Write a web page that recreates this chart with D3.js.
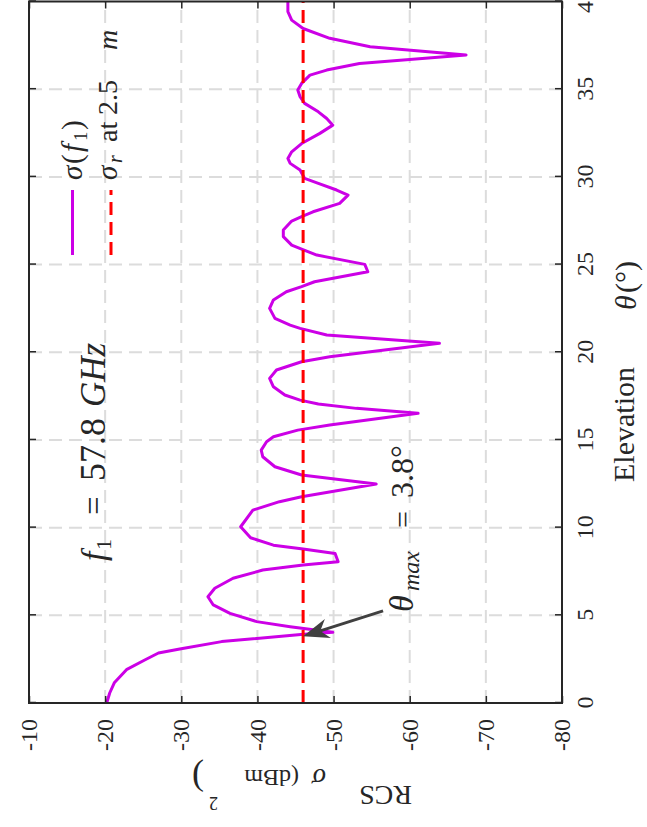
<!DOCTYPE html>
<html><head><meta charset="utf-8">
<script src="https://cdn.jsdelivr.net/npm/d3@7"></script>
<style>
html,body{margin:0;padding:0;background:#fff;}
svg{display:block;}
text{font-family:"Liberation Serif","Times New Roman",serif;fill:#262626;}
</style></head>
<body>
<script>
// ---- data ----
const elevation = [0.0,0.57,1.15,1.9,2.45,2.85,3.08,3.5,3.9,4.03,4.35,4.64,5.11,5.59,6.06,6.54,7.11,7.58,7.87,8.06,8.53,8.78,9.0,9.42,10.05,11.0,11.48,11.76,12.49,13.0,13.47,14.04,14.42,14.9,15.18,15.56,15.85,16.52,16.8,17.05,17.27,17.56,18.03,18.51,18.99,19.46,19.74,20.51,20.98,21.36,21.55,21.93,22.5,22.98,23.45,23.74,24.02,24.59,25.01,25.54,25.88,26.11,26.59,26.97,27.48,27.73,28.01,28.49,28.96,29.25,29.63,29.91,30.39,30.77,31.05,31.43,31.9,32.48,32.95,33.33,33.71,34.19,34.57,34.95,35.33,35.8,36.09,36.47,36.95,37.42,37.9,38.46,38.94,39.42,40.0];
const rcsF1 = [-20.2,-20.6,-21.2,-22.8,-25.2,-27.0,-29.8,-35.3,-45.7,-49.9,-44.3,-39.9,-36.4,-34.2,-33.5,-34.4,-36.8,-40.7,-46.0,-50.6,-50.2,-46.0,-42.1,-39.1,-37.8,-39.4,-42.9,-45.8,-55.6,-45.8,-42.3,-40.7,-40.5,-41.2,-42.1,-45.3,-49.5,-61.1,-53.0,-48.0,-45.6,-43.6,-42.1,-41.6,-42.5,-45.8,-49.5,-63.9,-49.1,-45.6,-44.3,-42.3,-41.6,-42.1,-43.8,-45.8,-47.5,-54.5,-54.1,-47.8,-45.8,-44.5,-43.4,-43.4,-44.5,-45.8,-47.3,-50.8,-51.9,-50.4,-48.0,-46.2,-45.6,-44.3,-44.0,-44.5,-45.8,-48.2,-49.9,-49.1,-48.0,-46.2,-45.6,-45.3,-45.8,-46.9,-49.1,-53.4,-67.4,-54.8,-49.5,-46.0,-44.5,-44.0,-44.0];
const sigmaR = -46.0;           // sigma_r at 2.5 m
const xTicks = [0,5,10,15,20,25,30,35,40];
const yTicks = [-80,-70,-60,-50,-40,-30,-20,-10];
const thetaMax = 3.8;
const arrowTail = {theta:5.25, rcs:-56.5};

// ---- layout (unrotated frame 827 x 647, then rotated -90deg) ----
const L = 124, R = 825.5, T = 29, B = 562;
const x = d3.scaleLinear().domain([0,40]).range([L,R]);
const y = d3.scaleLinear().domain([-80,-10]).range([B,T]);

const svg = d3.select("body").append("svg").attr("width",647).attr("height",827);
const g = svg.append("g").attr("transform","translate(0,827) rotate(-90)");

// grid
const grid = g.append("g");
grid.selectAll(".gx").data(xTicks.slice(1,-1)).join("line")
  .attr("x1",d=>x(d)).attr("x2",d=>x(d)).attr("y1",T).attr("y2",B)
  .attr("stroke","#dcdcdc").attr("stroke-width",2).attr("stroke-dasharray","13,7");
grid.selectAll(".gy").data(yTicks.slice(1,-1)).join("line")
  .attr("y1",d=>y(d)).attr("y2",d=>y(d)).attr("x1",L).attr("x2",R)
  .attr("stroke","#dcdcdc").attr("stroke-width",2).attr("stroke-dasharray","13,7");

// data lines
const pts = elevation.map((e,i)=>[e,rcsF1[i]]);
g.append("path").datum(pts)
  .attr("d", d3.line().x(d=>x(d[0])).y(d=>y(d[1])))
  .attr("fill","none").attr("stroke","#cc00e6").attr("stroke-width",3).attr("stroke-linejoin","round");
g.append("line").attr("x1",x(0)).attr("x2",x(40)).attr("y1",y(sigmaR)).attr("y2",y(sigmaR))
  .attr("stroke","#ff0000").attr("stroke-width",3).attr("stroke-dasharray","13,7");

// axes
function styleAxis(sel){
  sel.select(".domain").remove();
  sel.selectAll(".tick line").attr("stroke","#262626").attr("stroke-width",1.5);
  sel.selectAll(".tick text").attr("font-size",24).attr("fill","#262626");
}
const fmt = d=>String(d);
g.append("g").attr("transform",`translate(0,${B})`)
  .call(d3.axisBottom(x).tickValues(xTicks).tickFormat(fmt).tickSizeInner(-7).tickSizeOuter(0).tickPadding(14))
  .call(styleAxis);
g.append("g").attr("transform",`translate(0,${T})`)
  .call(d3.axisTop(x).tickValues(xTicks).tickFormat("").tickSizeInner(-7).tickSizeOuter(0))
  .call(styleAxis);
g.append("g").attr("transform",`translate(${L},0)`)
  .call(d3.axisLeft(y).tickValues(yTicks).tickFormat(fmt).tickSizeInner(-7).tickSizeOuter(0).tickPadding(16))
  .call(styleAxis);
g.append("g").attr("transform",`translate(${R},0)`)
  .call(d3.axisRight(y).tickValues(yTicks).tickFormat("").tickSizeInner(-7).tickSizeOuter(0))
  .call(styleAxis);
g.append("rect").attr("x",L).attr("y",T).attr("width",R-L).attr("height",B-T)
  .attr("fill","none").attr("stroke","#262626").attr("stroke-width",2);

// helper for text pieces in the unrotated frame
function piece(parent, str, u, v, size, italic){
  return parent.append("text").attr("x",u).attr("y",v).attr("font-size",size)
    .attr("font-style", italic ? "italic" : "normal").text(str);
}

// x label
piece(g,"Elevation",345,634,30,false);
piece(g,"θ",517,636,30,true);
piece(g,"(°)",534,636,30,false);

// y label (rotated in unrotated frame; local x = -v, local y = u)
const yl = g.append("g").attr("transform","rotate(-90)");
piece(yl,"RCS",-412,41,28,false);
piece(yl,"σ",-326,58,28,true);
piece(yl,"(dBm",-299,57,24,false);
piece(yl,"2",-218,30,18,false);
piece(yl,")",-204,60,36,false);

// legend
const lg = g.append("g");
lg.append("line").attr("x1",572).attr("x2",637).attr("y1",72.5).attr("y2",72.5)
  .attr("stroke","#cc00e6").attr("stroke-width",3);
lg.append("line").attr("x1",572).attr("x2",637).attr("y1",111).attr("y2",111)
  .attr("stroke","#ff0000").attr("stroke-width",3).attr("stroke-dasharray","13,7");
piece(lg,"σ",647,82,29,true);
piece(lg,"(",663,82,29,false);
piece(lg,"f",675,82,29,true);
piece(lg,"1",686,87,19,false);
piece(lg,")",697,82,29,false);
piece(lg,"σ",647,117,29,true);
piece(lg,"r",664,122,20,true);
piece(lg,"at",685,117,28,false);
piece(lg,"2.5",712,117,28,false);
piece(lg,"m",777,117,28,true);

// annotation f1 = 57.8 GHz
const a1 = g.append("g");
piece(a1,"f",266,105,34,true);
piece(a1,"1",277,111,22,false);
piece(a1,"=",312,105,33,false);
piece(a1,"57.8",346,105,36,false);
piece(a1,"GHz",420,105,35,true);

// annotation theta max
const a2 = g.append("g");
piece(a2,"θ",215,413,34,true);
piece(a2,"max",236,419,24,true);
piece(a2,"=",299,413,30,false);
piece(a2,"3.8°",329,413,32,false);

// arrow
const tx = x(thetaMax), ty = y(sigmaR), sx = x(arrowTail.theta), sy = y(arrowTail.rcs);
const ang = Math.atan2(ty-sy, tx-sx);
const hl = 26, hw = 10, back = 18;
const ux = Math.cos(ang), uy = Math.sin(ang);
const bx = tx - ux*hl, by = ty - uy*hl;
const nbx = tx - ux*back, nby = ty - uy*back;
g.append("line").attr("x1",sx).attr("y1",sy).attr("x2",nbx).attr("y2",nby)
  .attr("stroke","#404040").attr("stroke-width",3);
g.append("path").attr("d",`M${tx},${ty} L${bx - uy*hw},${by + ux*hw} L${nbx},${nby} L${bx + uy*hw},${by - ux*hw} Z`)
  .attr("fill","#404040");
</script>
</body></html>
